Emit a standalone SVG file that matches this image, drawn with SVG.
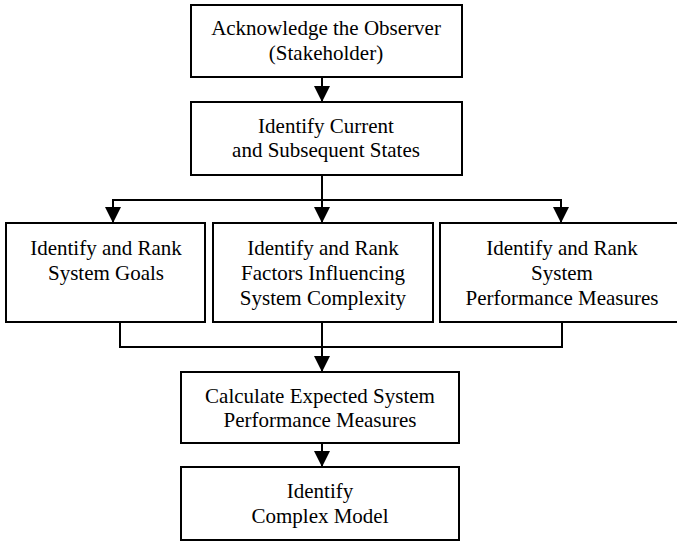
<svg xmlns="http://www.w3.org/2000/svg" width="677" height="541" viewBox="0 0 677 541">
  <style>
    .box { fill: #ffffff; stroke: #000000; stroke-width: 2; }
    .lbl { font-family: "Liberation Serif", "Times New Roman", serif; font-size: 21px; fill: #000000; text-anchor: middle; }
    .wire { fill: none; stroke: #000000; stroke-width: 2; }
  </style>
  <defs>
    <marker id="head" viewBox="0 0 16 16" refX="16" refY="8" markerWidth="16" markerHeight="16" markerUnits="userSpaceOnUse" orient="auto">
      <path d="M0,0 L16,8 L0,16 Z" fill="#000000"/>
    </marker>
  </defs>

  <rect width="677" height="541" fill="#ffffff"/>

  <g id="connectors">
    <line class="wire" x1="322" y1="77" x2="322" y2="102" marker-end="url(#head)"/>
    <line class="wire" x1="322" y1="175" x2="322" y2="200"/>
    <line class="wire" x1="113" y1="200" x2="561" y2="200"/>
    <line class="wire" x1="113" y1="199" x2="113" y2="223" marker-end="url(#head)"/>
    <line class="wire" x1="322" y1="200" x2="322" y2="223" marker-end="url(#head)"/>
    <line class="wire" x1="561" y1="199" x2="561" y2="223" marker-end="url(#head)"/>
    <line class="wire" x1="120" y1="322" x2="120" y2="347"/>
    <line class="wire" x1="322" y1="322" x2="322" y2="347"/>
    <line class="wire" x1="562" y1="322" x2="562" y2="347"/>
    <line class="wire" x1="119" y1="347" x2="563" y2="347"/>
    <line class="wire" x1="322" y1="347" x2="322" y2="372" marker-end="url(#head)"/>
    <line class="wire" x1="322" y1="443" x2="322" y2="467" marker-end="url(#head)"/>
  </g>

  <g id="acknowledge">
    <rect class="box" x="191" y="5" width="271" height="72"/>
    <text class="lbl" x="326" y="35">Acknowledge the Observer</text>
    <text class="lbl" x="326" y="60">(Stakeholder)</text>
  </g>

  <g id="states">
    <rect class="box" x="191" y="102" width="271" height="73"/>
    <text class="lbl" x="326" y="133">Identify Current</text>
    <text class="lbl" x="326" y="157">and Subsequent States</text>
  </g>

  <g id="goals">
    <rect class="box" x="6" y="223" width="199" height="99"/>
    <text class="lbl" x="106" y="255">Identify and Rank</text>
    <text class="lbl" x="106" y="280">System Goals</text>
  </g>

  <g id="factors">
    <rect class="box" x="213" y="223" width="220" height="99"/>
    <text class="lbl" x="323" y="255">Identify and Rank</text>
    <text class="lbl" x="323" y="280">Factors Influencing</text>
    <text class="lbl" x="323" y="305">System Complexity</text>
  </g>

  <g id="measures">
    <rect class="box" x="440" y="223" width="244" height="99"/>
    <text class="lbl" x="562" y="255">Identify and Rank</text>
    <text class="lbl" x="562" y="280">System</text>
    <text class="lbl" x="562" y="305">Performance Measures</text>
  </g>

  <g id="calculate">
    <rect class="box" x="181" y="372" width="278" height="71"/>
    <text class="lbl" x="320" y="403">Calculate Expected System</text>
    <text class="lbl" x="320" y="427">Performance Measures</text>
  </g>

  <g id="model">
    <rect class="box" x="181" y="467" width="278" height="73"/>
    <text class="lbl" x="320" y="498">Identify</text>
    <text class="lbl" x="320" y="523">Complex Model</text>
  </g>
</svg>
